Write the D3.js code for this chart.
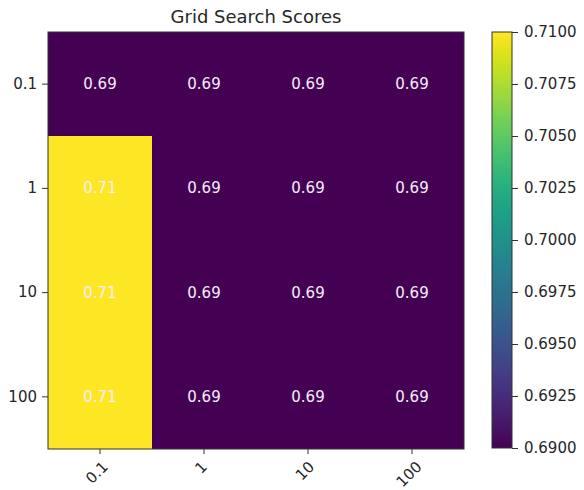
<!DOCTYPE html>
<html>
<head>
<meta charset="utf-8">
<script src="https://cdn.jsdelivr.net/npm/d3@7"></script>
<style>
  html, body { margin: 0; padding: 0; background: #fff; }
  svg { display: block; font-family: "DejaVu Sans", sans-serif; }
</style>
</head>
<body>
<svg id="chart" width="584" height="490"></svg>
<script>
// ---- data ----
const title = "Grid Search Scores";
const xLabels = ["0.1", "1", "10", "100"];
const yLabels = ["0.1", "1", "10", "100"];
const row01  = [0.69, 0.69, 0.69, 0.69];
const row1   = [0.71, 0.69, 0.69, 0.69];
const row10  = [0.71, 0.69, 0.69, 0.69];
const row100 = [0.71, 0.69, 0.69, 0.69];
const scores = [row01, row1, row10, row100];
const colorbarTicks = [0.6900, 0.6925, 0.6950, 0.6975, 0.7000, 0.7025, 0.7050, 0.7075, 0.7100];

// ---- layout ----
const svg = d3.select("#chart");
const plot = { left: 48, top: 32, right: 464, bottom: 449 };
const cb = { left: 492, right: 512, top: 32, bottom: 448 };
const fontSize = 15;
const textColor = "#262626";
const tickLen = 5, tickPad = 4;

const x = d3.scaleBand().domain(xLabels).range([plot.left, plot.right]).padding(0);
const y = d3.scaleBand().domain(yLabels).range([plot.top, plot.bottom]).padding(0);
const vmin = d3.min(colorbarTicks), vmax = d3.max(colorbarTicks);
const color = d3.scaleSequential(d3.interpolateViridis).domain([vmin, vmax]);

// cells
const cells = [];
scores.forEach((row, i) => row.forEach((v, j) => cells.push({ xi: xLabels[j], yi: yLabels[i], v })));

svg.append("g").selectAll("rect").data(cells).join("rect")
  .attr("x", d => x(d.xi))
  .attr("y", d => y(d.yi))
  .attr("width", x.bandwidth())
  .attr("height", y.bandwidth())
  .attr("fill", d => color(d.v))
  .attr("shape-rendering", "crispEdges");

svg.append("g").selectAll("text").data(cells).join("text")
  .attr("x", d => x(d.xi) + x.bandwidth() / 2)
  .attr("y", d => y(d.yi) + y.bandwidth() / 2)
  .attr("text-anchor", "middle")
  .attr("dominant-baseline", "central")
  .attr("font-size", fontSize)
  .attr("fill", "#f4eef8")
  .text(d => d.v.toFixed(2));

// frame
svg.append("rect")
  .attr("x", plot.left).attr("y", plot.top)
  .attr("width", plot.right - plot.left).attr("height", plot.bottom - plot.top)
  .attr("fill", "none").attr("stroke", "#333").attr("stroke-width", 1);

// y axis
const yAxis = d3.axisLeft(y).tickSize(6).tickPadding(5);
const gy = svg.append("g").attr("transform", `translate(${plot.left},0)`).call(yAxis);
gy.select(".domain").remove();
gy.selectAll("line").attr("stroke", "#333");
gy.selectAll("text").attr("font-size", fontSize).attr("fill", textColor).attr("font-family", "DejaVu Sans");

// x axis
const xAxis = d3.axisBottom(x).tickSize(tickLen).tickFormat("");
const gx = svg.append("g").attr("transform", `translate(0,${plot.bottom})`).call(xAxis);
gx.select(".domain").remove();
gx.selectAll("line").attr("stroke", "#333");

const xl = svg.append("g");
xLabels.forEach(lbl => {
  const t = xl.append("text")
    .attr("font-size", fontSize)
    .attr("fill", textColor)
    .attr("text-anchor", "middle")
    .attr("dominant-baseline", "central")
    .text(lbl);
  const w = t.node().getComputedTextLength();
  const h = fontSize * 1.15;
  const diag = (w + h) / Math.SQRT2;
  const cx = x(lbl) + x.bandwidth() / 2 - 3;
  const cy = plot.bottom + tickLen + tickPad + diag / 2;
  t.attr("transform", `translate(${cx},${cy}) rotate(-45)`);
});

// title
svg.append("text")
  .attr("x", (plot.left + plot.right) / 2)
  .attr("y", 23)
  .attr("text-anchor", "middle")
  .attr("font-size", 18)
  .attr("fill", textColor)
  .text(title);

// colorbar
const defs = svg.append("defs");
const grad = defs.append("linearGradient").attr("id", "viridisGrad")
  .attr("x1", "0%").attr("y1", "100%").attr("x2", "0%").attr("y2", "0%");
d3.range(0, 1.0001, 0.05).forEach(t => {
  grad.append("stop").attr("offset", (t * 100) + "%").attr("stop-color", d3.interpolateViridis(t));
});
svg.append("rect")
  .attr("x", cb.left).attr("y", cb.top)
  .attr("width", cb.right - cb.left).attr("height", cb.bottom - cb.top)
  .attr("fill", "url(#viridisGrad)")
  .attr("stroke", "#333").attr("stroke-width", 1);

const cbScale = d3.scaleLinear().domain([vmin, vmax]).range([cb.bottom, cb.top]);
const cbAxis = d3.axisRight(cbScale).tickValues(colorbarTicks).tickFormat(d3.format(".4f"))
  .tickSize(6).tickPadding(6);
const gcb = svg.append("g").attr("transform", `translate(${cb.right},0)`).call(cbAxis);
gcb.select(".domain").remove();
gcb.selectAll("line").attr("stroke", "#333");
gcb.selectAll("text").attr("font-size", fontSize).attr("fill", textColor).attr("font-family", "DejaVu Sans");
</script>
</body>
</html>
